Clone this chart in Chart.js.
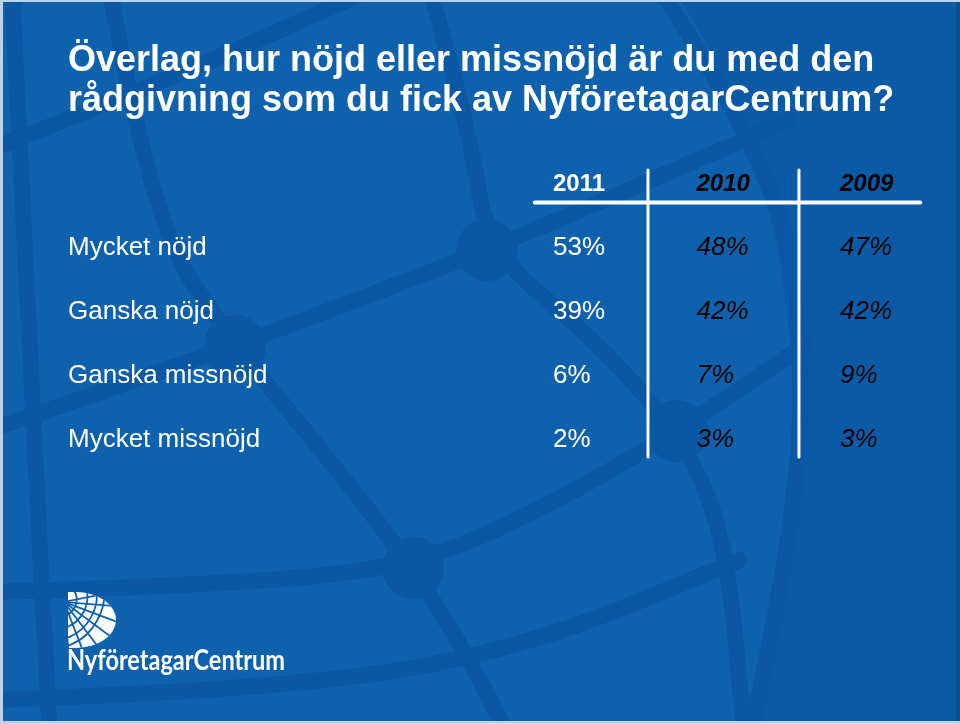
<!DOCTYPE html>
<html>
<head>
<meta charset="utf-8">
<script src="https://cdn.jsdelivr.net/npm/chart.js@4.4.1/dist/chart.umd.min.js"></script>
<style>
  html, body { margin: 0; padding: 0; background: #0e62ad; }
  canvas { display: block; }
</style>
</head>
<body>
<canvas id="nkiChart" width="960" height="724"></canvas>
<script>
// Data
const titleLines = ['Överlag, hur nöjd eller missnöjd är du med den', 'rådgivning som du fick av NyföretagarCentrum?'];
const answers = ['Mycket nöjd', 'Ganska nöjd', 'Ganska missnöjd', 'Mycket missnöjd'];
const years = ['2011', '2010', '2009'];
const values2011 = [53, 39, 6, 2];
const values2010 = [48, 42, 7, 3];
const values2009 = [47, 42, 9, 3];
const logoText = 'NyföretagarCentrum';

// Style
const FONT = "'Liberation Sans', Arial, Helvetica, sans-serif";
const yearColors = ['#ffffff', '#000000', '#000000'];
const yearStyles = ['normal', 'italic', 'italic'];
const BLUE = '#0e62ad';
const LINE = '#0a58a4';

function column(values, i) {
  return values.map((v, k) => ({ x: i + 1, y: answers[k], v: v }));
}

// smooth path through a list of points
function smooth(ctx, pts) {
  ctx.beginPath();
  ctx.moveTo(pts[0][0], pts[0][1]);
  for (let i = 1; i < pts.length - 1; i++) {
    const mx = (pts[i][0] + pts[i + 1][0]) / 2;
    const my = (pts[i][1] + pts[i + 1][1]) / 2;
    ctx.quadraticCurveTo(pts[i][0], pts[i][1], mx, my);
  }
  const last = pts[pts.length - 1];
  ctx.lineTo(last[0], last[1]);
  ctx.stroke();
}

// globe-like background
const backdrop = {
  id: 'backdrop',
  beforeDraw(chart) {
    const ctx = chart.ctx;
    ctx.save();
    ctx.fillStyle = BLUE;
    ctx.fillRect(0, 0, 960, 724);

    // darker area outside the globe edge
    ctx.fillStyle = '#0b5aa5';
    ctx.beginPath();
    ctx.moveTo(680, 0);
    ctx.bezierCurveTo(800, 180, 830, 470, 745, 724);
    ctx.lineTo(960, 724);
    ctx.lineTo(960, 0);
    ctx.closePath();
    ctx.fill();

    ctx.strokeStyle = LINE;
    ctx.lineWidth = 16;
    ctx.lineCap = 'round';
    ctx.lineJoin = 'round';
    const paths = [
      [[12, -10], [30, 360], [50, 740]],
      [[110, -10], [150, 220], [235, 346], [333, 464], [413, 568], [470, 660], [510, 740]],
      [[430, -10], [470, 130], [487, 250], [590, 335], [677, 431], [725, 530], [745, 740]],
      [[660, -10], [780, 170], [805, 380], [790, 540], [750, 740]],
      [[-10, 150], [180, 75], [370, -10]],
      [[-10, 430], [120, 385], [235, 346], [370, 295], [487, 250], [640, 185], [790, 120]],
      [[-10, 592], [200, 586], [413, 568], [560, 500], [677, 431], [805, 345]],
      [[-10, 700], [280, 690], [520, 650], [740, 560]]
    ];
    paths.forEach(p => smooth(ctx, p));
    ctx.fillStyle = LINE;
    [[235, 346], [487, 250], [413, 568], [677, 431]].forEach(p => {
      ctx.beginPath();
      ctx.arc(p[0], p[1], 31, 0, Math.PI * 2);
      ctx.fill();
    });

    // slide border
    ctx.fillStyle = '#bcd3ea';
    ctx.fillRect(0, 0, 960, 2);
    ctx.fillRect(0, 0, 3, 724);
    ctx.fillRect(0, 721, 960, 3);
    ctx.fillStyle = '#0a4f94';
    ctx.fillRect(956, 2, 4, 719);
    ctx.restore();
  }
};

// table rules
const tableLines = {
  id: 'tableLines',
  afterDatasetsDraw(chart) {
    const ctx = chart.ctx;
    const x = chart.scales.x;
    const area = chart.chartArea;
    ctx.save();
    ctx.strokeStyle = '#ffffff';
    ctx.lineCap = 'round';
    ctx.lineWidth = 4;
    ctx.beginPath();
    ctx.moveTo(x.getPixelForValue(0.873), area.top - 13.5);
    ctx.lineTo(x.getPixelForValue(3.56), area.top - 13.5);
    ctx.stroke();
    ctx.lineWidth = 3;
    [1.662, 2.714].forEach(v => {
      const px = x.getPixelForValue(v);
      ctx.beginPath();
      ctx.moveTo(px, area.top - 46);
      ctx.lineTo(px, area.bottom - 15);
      ctx.stroke();
    });
    ctx.restore();
  }
};

// percentages written at each point
const cellText = {
  id: 'cellText',
  afterDatasetsDraw(chart) {
    const ctx = chart.ctx;
    ctx.save();
    ctx.textAlign = 'left';
    ctx.textBaseline = 'middle';
    chart.data.datasets.forEach((ds, i) => {
      const meta = chart.getDatasetMeta(i);
      ctx.fillStyle = ds.textColor;
      ctx.font = ds.textStyle + ' 26px ' + FONT;
      meta.data.forEach((pt, k) => {
        ctx.fillText(ds.data[k].v + '%', pt.x, pt.y);
      });
    });
    ctx.restore();
  }
};

// NyföretagarCentrum logo
const logo = {
  id: 'logo',
  afterDraw(chart) {
    const ctx = chart.ctx;
    ctx.save();
    ctx.translate(68, 592);
    ctx.beginPath();
    ctx.moveTo(0, 0);
    ctx.lineTo(8, 0);
    ctx.ellipse(8, 28, 40, 28, 0, -Math.PI / 2, Math.PI / 2);
    ctx.lineTo(0, 56);
    ctx.closePath();
    ctx.fillStyle = '#ffffff';
    ctx.fill();
    ctx.clip();
    ctx.strokeStyle = BLUE;
    ctx.lineWidth = 1.8;
    [12, 22, 31, 38].forEach(r => {
      ctx.beginPath();
      ctx.ellipse(-4, 10, r, r * 1.25, 0.5, 0, Math.PI * 2);
      ctx.stroke();
    });
    for (let a = -0.2; a < 1.8; a += 0.28) {
      ctx.beginPath();
      ctx.moveTo(-4, 10);
      ctx.lineTo(-4 + Math.cos(a) * 80, 10 + Math.sin(a) * 80);
      ctx.stroke();
    }
    ctx.restore();

    ctx.save();
    ctx.fillStyle = '#ffffff';
    ctx.font = 'bold 29px Lato, "Open Sans", sans-serif';
    ctx.textBaseline = 'alphabetic';
    const w = ctx.measureText(logoText).width;
    ctx.translate(67, 670);
    ctx.scale(218 / w, 1);
    ctx.fillText(logoText, 0, 0);
    ctx.restore();
  }
};

const ctx = document.getElementById('nkiChart').getContext('2d');
const nkiChart = new Chart(ctx, {
  type: 'scatter',
  data: {
    datasets: [
      { label: years[0], data: column(values2011, 0), textColor: yearColors[0], textStyle: yearStyles[0], pointRadius: 0 },
      { label: years[1], data: column(values2010, 1), textColor: yearColors[1], textStyle: yearStyles[1], pointRadius: 0 },
      { label: years[2], data: column(values2009, 2), textColor: yearColors[2], textStyle: yearStyles[2], pointRadius: 0 }
    ]
  },
  options: {
    responsive: false,
    animation: false,
    layout: { padding: { left: 68, right: 48.25, top: 0, bottom: 252 } },
    plugins: {
      legend: { display: false },
      tooltip: { enabled: false },
      title: {
        display: true,
        text: titleLines,
        align: 'start',
        color: '#ffffff',
        font: { family: FONT, size: 36, weight: 'bold', lineHeight: 40 / 36 },
        padding: { top: 41, bottom: 35 }
      }
    },
    scales: {
      x: {
        type: 'linear',
        position: 'top',
        min: 0.5,
        max: 3.5,
        grid: { display: false, drawTicks: false, tickLength: 0 },
        border: { display: false },
        afterBuildTicks: s => { s.ticks = years.map((y, i) => ({ value: i + 1 })); },
        afterFit: s => { s.height = 60; },
        ticks: {
          align: 'start',
          maxRotation: 0,
          autoSkip: false,
          padding: 17,
          callback: v => years[v - 1],
          color: c => yearColors[c.index],
          font: c => ({ family: FONT, size: 24, weight: 'bold', style: yearStyles[c.index] })
        }
      },
      y: {
        type: 'category',
        labels: answers,
        offset: true,
        position: 'left',
        grid: { display: false, drawTicks: false, tickLength: 0 },
        border: { display: false },
        afterFit: s => { s.width = 413.25; },
        ticks: {
          color: '#ffffff',
          crossAlign: 'far',
          padding: 0,
          font: { family: FONT, size: 26 }
        }
      }
    }
  },
  plugins: [backdrop, tableLines, cellText, logo]
});
</script>
</body>
</html>
